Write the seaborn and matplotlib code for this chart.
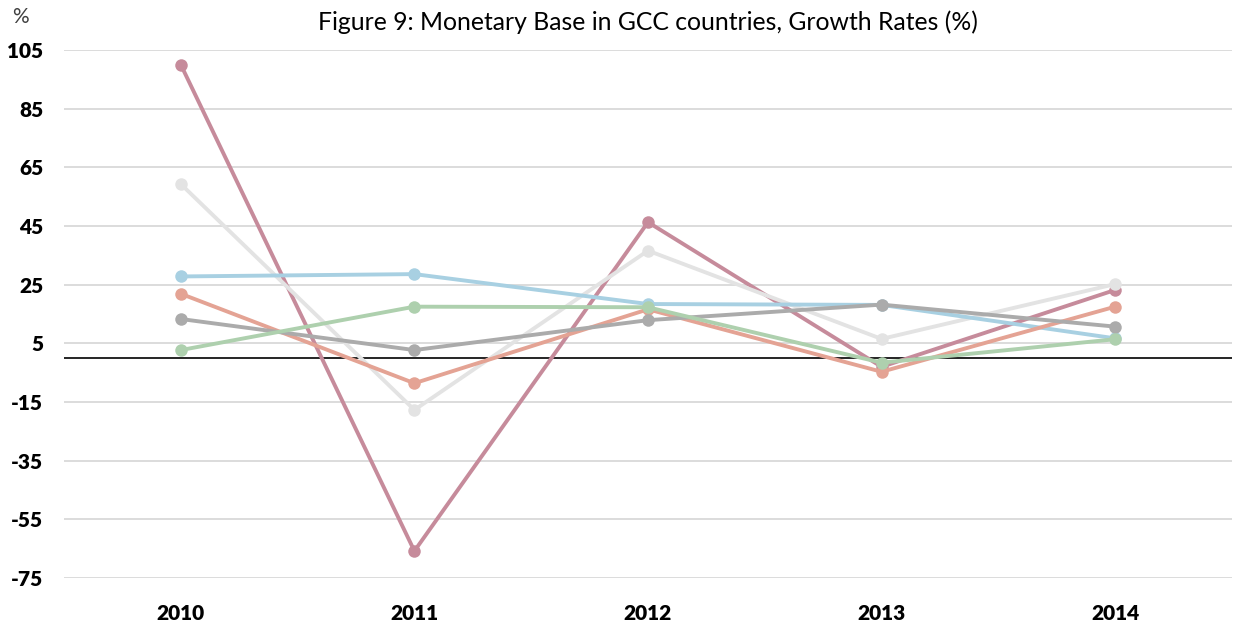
import pandas as pd
import matplotlib
matplotlib.use("Agg")
import matplotlib.pyplot as plt
import seaborn as sns

# data
years = ["2010", "2011", "2012", "2013", "2014"]
series_names = ["Series 1", "Series 2", "Series 3", "Series 4", "Series 5", "Series 6"]
s1_pink = [100.0, -65.8, 46.3, -3.0, 23.2]
s2_lightgrey = [59.3, -17.7, 36.6, 6.5, 25.2]
s3_blue = [27.8, 28.6, 18.4, 18.1, 6.7]
s4_salmon = [21.9, -8.6, 16.6, -4.7, 17.5]
s5_grey = [13.3, 2.7, 12.9, 18.2, 10.7]
s6_green = [2.7, 17.5, 17.3, -1.6, 6.4]
colors = ["#C68B9B", "#E3E3E3", "#A8D0E2", "#E4A394", "#ABABAB", "#AED0AE"]
yticks = [-75, -55, -35, -15, 5, 25, 45, 65, 85, 105]

all_values = [s1_pink, s2_lightgrey, s3_blue, s4_salmon, s5_grey, s6_green]
rows = []
for name, vals in zip(series_names, all_values):
    for i, (yr, v) in enumerate(zip(years, vals)):
        rows.append({"Year": yr, "pos": i, "Series": name, "Value": v})
df = pd.DataFrame(rows)

sns.set_theme(style="white")
plt.rcParams["font.family"] = ["Lato", "DejaVu Sans"]
plt.rcParams["axes.unicode_minus"] = False

fig = plt.figure(figsize=(12.34, 6.26), dpi=100)
ax = fig.add_axes([64 / 1234, 1 - 578 / 626, 1168 / 1234, 528 / 626])

ax.set_ylim(-75, 105)
ax.set_xlim(-0.5, 4.5)
ax.set_yticks(yticks)
ax.grid(axis="y", color="#D9D9D9", linewidth=1.3)
ax.set_axisbelow(True)
ax.axhline(0, color="black", linewidth=1.2, zorder=1)

sns.lineplot(data=df, x="pos", y="Value", hue="Series", hue_order=series_names,
             palette=colors, marker="o", markersize=9, markeredgewidth=0,
             linewidth=2.8, legend=False, ax=ax)

ax.set_xticks(range(len(years)))
ax.set_xticklabels(years)
for lbl in ax.get_xticklabels() + ax.get_yticklabels():
    lbl.set_fontweight("heavy")
    lbl.set_fontsize(15)
    lbl.set_color("black")
ax.tick_params(axis="x", pad=19, length=0)
ax.tick_params(axis="y", pad=15, length=0)
ax.set_xlabel("")
ax.set_ylabel("")
sns.despine(ax=ax, left=True, bottom=True)

fig.text(648 / 1234, 1 - 22 / 626, "Figure 9: Monetary Base in GCC countries, Growth Rates (%)",
         ha="center", va="center", fontsize=17.8, color="black")
fig.text(20 / 1234, 1 - 17 / 626, "%", ha="center", va="center", fontsize=15, color="#404040")

fig.savefig("out.png", dpi=100)
